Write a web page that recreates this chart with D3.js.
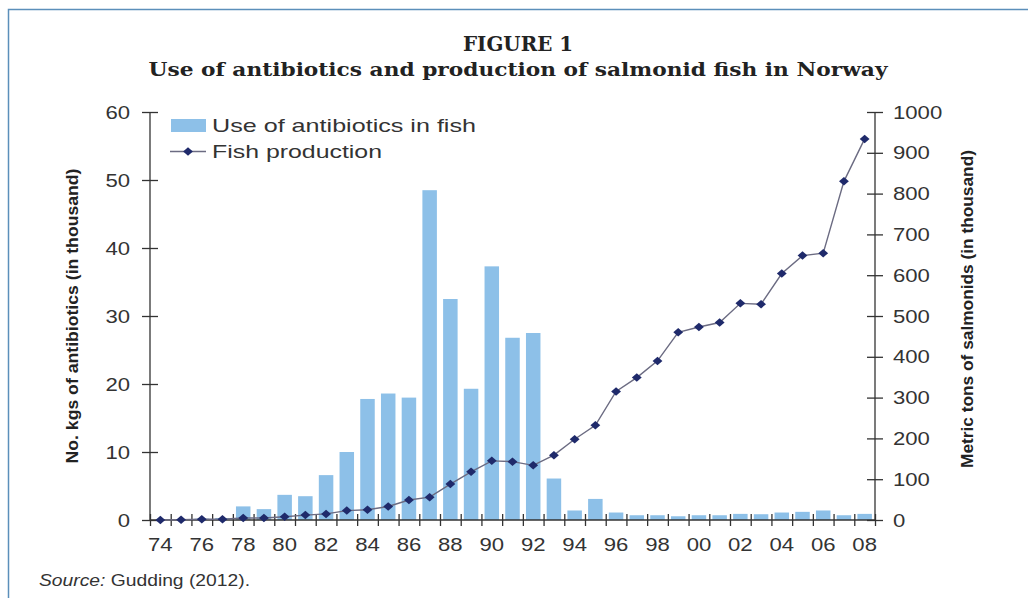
<!DOCTYPE html>
<html>
<head>
<meta charset="utf-8">
<script src="https://cdn.jsdelivr.net/npm/d3@7"></script>
<style>
  body { margin: 0; background: #fff; }
  svg { display: block; }
</style>
</head>
<body>
<script>
// years 1974..2008, two-digit labels
var years = ['74','75','76','77','78','79','80','81','82','83','84','85','86','87','88','89','90','91',
             '92','93','94','95','96','97','98','99','00','01','02','03','04','05','06','07','08'];
// thousand kg of antibiotics
var antibiotics = [0, 0, 0.2, 0.3, 2.0, 1.6, 3.7, 3.5, 6.6, 10.0, 17.8, 18.6, 18.0, 48.5, 32.5, 19.3, 37.3, 26.8,
                   27.5, 6.1, 1.4, 3.1, 1.1, 0.7, 0.7, 0.55, 0.7, 0.7, 0.9, 0.85, 1.1, 1.2, 1.4, 0.7, 0.9];
// thousand metric tons of salmonids
var production = [0, 0.5, 2, 2, 5, 5, 8, 12, 15, 23, 25, 33, 49, 56, 88, 118, 145, 143,
                  134, 159, 198, 232, 315, 349, 390, 460, 473, 484, 531, 529, 604, 648, 654, 830, 934];
var leftTicks = [0, 10, 20, 30, 40, 50, 60];
var rightTicks = [0, 100, 200, 300, 400, 500, 600, 700, 800, 900, 1000];
var labelYears = ['74','76','78','80','82','84','86','88','90','92','94','96','98','00','02','04','06','08'];

var width = 1028, height = 598;
var plotLeft = 150, plotRight = 875, plotTop = 112, plotBottom = 520;
var ink = '#333';

var svg = d3.select('body').append('svg')
    .attr('width', width)
    .attr('height', height);

// frame
svg.append('path')
    .attr('d', 'M8.5,' + height + 'V9.5H' + width)
    .attr('fill', 'none')
    .attr('stroke', '#5b8fba')
    .attr('stroke-width', 1.5);

var x = d3.scaleBand().domain(years).range([plotLeft, plotRight]).paddingInner(0.3).paddingOuter(0.15);
var yL = d3.scaleLinear().domain([0, 60]).range([plotBottom, plotTop]);
var yR = d3.scaleLinear().domain([0, 1000]).range([plotBottom, plotTop]);

// title
svg.append('text')
    .attr('x', 518).attr('y', 51)
    .attr('text-anchor', 'middle')
    .attr('textLength', 110)
    .attr('lengthAdjust', 'spacingAndGlyphs')
    .style('font', 'bold 20px "DejaVu Serif"')
    .attr('fill', '#222')
    .text('FIGURE 1');
svg.append('text')
    .attr('x', 518).attr('y', 76)
    .attr('text-anchor', 'middle')
    .attr('textLength', 739)
    .attr('lengthAdjust', 'spacingAndGlyphs')
    .style('font', 'bold 18px "DejaVu Serif"')
    .attr('fill', '#222')
    .text('Use of antibiotics and production of salmonid fish in Norway');

// bars
svg.append('g').selectAll('rect')
    .data(antibiotics)
    .enter().append('rect')
    .attr('x', (d, i) => x(years[i]))
    .attr('y', (d) => yL(d))
    .attr('width', x.bandwidth())
    .attr('height', (d) => plotBottom - yL(d))
    .attr('fill', '#8dc0e8');

// left axis
var gL = svg.append('g')
    .attr('transform', 'translate(' + plotLeft + ',0)')
    .call(d3.axisLeft(yL).tickValues(leftTicks).tickSize(8).tickPadding(12));
gL.selectAll('.tick line').attr('x2', 8).attr('x1', -8);

// right axis
var gR = svg.append('g')
    .attr('transform', 'translate(' + plotRight + ',0)')
    .call(d3.axisRight(yR).tickValues(rightTicks).tickFormat(d3.format('d')).tickSize(8).tickPadding(10));
gR.selectAll('.tick line').attr('x2', -8).attr('x1', 8);

// bottom axis: boundary ticks + labels at band centers
var xb = d3.scaleLinear().domain([0, years.length]).range([plotLeft, plotRight]);
var gB = svg.append('g')
    .attr('transform', 'translate(0,' + plotBottom + ')')
    .call(d3.axisBottom(xb).tickValues(d3.range(years.length + 1)).tickSize(6).tickFormat(''));
gB.selectAll('.tick line').attr('y1', -6);

var gX = svg.append('g')
    .attr('transform', 'translate(0,' + plotBottom + ')')
    .call(d3.axisBottom(x).tickValues(labelYears).tickSize(0).tickPadding(18));
gX.select('.domain').remove();

[gL, gR, gB, gX].forEach(function(g) {
    g.select('.domain').attr('stroke', ink).attr('stroke-width', 1.3);
    g.selectAll('.tick line').attr('stroke', ink).attr('stroke-width', 1.3);
    g.selectAll('.tick text')
        .attr('fill', ink)
        .attr('textLength', function() { return this.textContent.length * 12.3; })
        .attr('lengthAdjust', 'spacingAndGlyphs')
        .style('font', '19px "Liberation Sans", Arial, sans-serif');
});
gL.select('.domain').attr('d', 'M0,' + plotTop + 'V' + plotBottom);
gR.select('.domain').attr('d', 'M0,' + plotTop + 'V' + plotBottom);
gB.select('.domain').attr('d', 'M' + plotLeft + ',0H' + plotRight);

// production line
var line = d3.line()
    .x((d, i) => x(years[i]) + x.bandwidth() / 2)
    .y((d) => yR(d));
svg.append('path')
    .datum(production)
    .attr('d', line)
    .attr('fill', 'none')
    .attr('stroke', '#6b6b82')
    .attr('stroke-width', 1.4);

// diamond marker: rotated square, a bit wider than tall
var marker = d3.symbol().type(d3.symbolSquare).size(40);
svg.append('g').selectAll('path')
    .data(production)
    .enter().append('path')
    .attr('d', marker)
    .attr('transform', (d, i) => 'translate(' + (x(years[i]) + x.bandwidth() / 2) + ',' + yR(d) + ') scale(1.1,0.95) rotate(45)')
    .attr('fill', '#1f2a6b');

// axis titles
svg.append('text')
    .attr('transform', 'translate(78,316) rotate(-90)')
    .attr('text-anchor', 'middle')
    .attr('textLength', 295)
    .attr('lengthAdjust', 'spacingAndGlyphs')
    .style('font', 'bold 17px "Liberation Sans", Arial, sans-serif')
    .attr('fill', '#222')
    .text('No. kgs of antibiotics (in thousand)');
svg.append('text')
    .attr('transform', 'translate(973,309) rotate(-90)')
    .attr('text-anchor', 'middle')
    .attr('textLength', 318)
    .attr('lengthAdjust', 'spacingAndGlyphs')
    .style('font', 'bold 17px "Liberation Sans", Arial, sans-serif')
    .attr('fill', '#222')
    .text('Metric tons of salmonids (in thousand)');

// legend
var lg = svg.append('g');
lg.append('rect')
    .attr('x', 171).attr('y', 119).attr('width', 35).attr('height', 13)
    .attr('fill', '#8dc0e8');
lg.append('text')
    .attr('x', 212).attr('y', 132)
    .attr('textLength', 264)
    .attr('lengthAdjust', 'spacingAndGlyphs')
    .style('font', '19px "Liberation Sans", Arial, sans-serif')
    .attr('fill', ink)
    .text('Use of antibiotics in fish');
lg.append('line')
    .attr('x1', 170).attr('x2', 206).attr('y1', 151.5).attr('y2', 151.5)
    .attr('stroke', '#6b6b82').attr('stroke-width', 1.4);
lg.append('path')
    .attr('d', marker)
    .attr('transform', 'translate(188,151.5) scale(1.1,0.95) rotate(45)')
    .attr('fill', '#1f2a6b');
lg.append('text')
    .attr('x', 212).attr('y', 158)
    .attr('textLength', 170)
    .attr('lengthAdjust', 'spacingAndGlyphs')
    .style('font', '19px "Liberation Sans", Arial, sans-serif')
    .attr('fill', ink)
    .text('Fish production');

// source
var src = svg.append('text')
    .attr('x', 39).attr('y', 586)
    .attr('textLength', 211)
    .attr('lengthAdjust', 'spacingAndGlyphs')
    .style('font', '16px "Liberation Sans", Arial, sans-serif')
    .attr('fill', ink);
src.append('tspan').style('font-style', 'italic').text('Source:');
src.append('tspan').text(' Gudding (2012).');
</script>
</body>
</html>
